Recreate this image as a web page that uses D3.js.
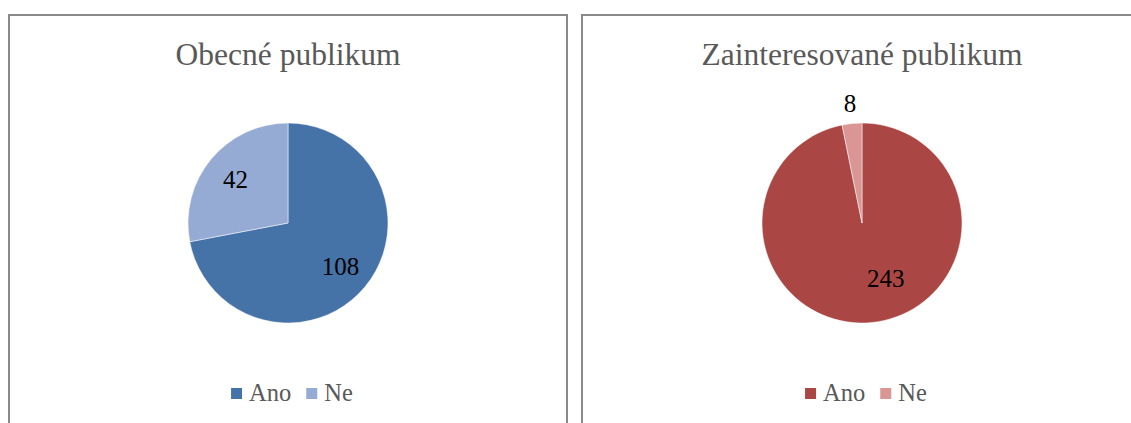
<!DOCTYPE html>
<html><head><meta charset="utf-8">
<script src="https://cdn.jsdelivr.net/npm/d3@7"></script>
<style>html,body{margin:0;padding:0;background:#fff;}svg{display:block;}text{font-family:"Liberation Serif","Times New Roman",serif;}</style>
</head><body>
<svg id="c" width="1131" height="423"></svg>
<script>
const categories = ["Ano", "Ne"];
const titles = ["Obecné publikum", "Zainteresované publikum"];
const valuesGeneral = [108, 42];
const valuesInterested = [243, 8];
const colorsGeneral = ["#4572A7", "#95ABD3"];
const colorsInterested = ["#AA4643", "#D99694"];

const svg = d3.select("#c");
const panels = [
  {x: 9, w: 558, cx: 288, title: titles[0], values: valuesGeneral, colors: colorsGeneral,
   outside: [false, false], shift: [[0, 0], [0, 0]]},
  {x: 582, w: 600, cx: 862, title: titles[1], values: valuesInterested, colors: colorsInterested,
   outside: [false, true], shift: [[17, -12], [0, 0]]}
];
const R = 100;
panels.forEach((p, i) => {
  const g = svg.append("g");
  g.append("rect").attr("x", p.x).attr("y", 15).attr("width", p.w).attr("height", 460)
    .attr("fill", "#fff").attr("stroke", "#8a8a8a").attr("stroke-width", 2);
  const cx = p.cx, cy = 223;
  g.append("text").attr("x", cx).attr("y", 65).attr("text-anchor", "middle")
    .attr("font-size", 31.5).attr("fill", "#595959").text(p.title);
  const pie = d3.pie().sort(null).value(d => d)(p.values);
  const arc = d3.arc().innerRadius(0).outerRadius(R);
  const pg = g.append("g").attr("transform", `translate(${cx},${cy})`);
  pg.selectAll("path").data(pie).join("path").attr("d", arc)
    .attr("fill", (d, j) => p.colors[j]).attr("stroke", "#fff").attr("stroke-width", 0.5);
  pg.selectAll("text").data(pie).join("text")
    .attr("transform", (d, j) => {
      const r = p.outside[j] ? R * 1.2 : R * 0.68;
      const c = d3.arc().innerRadius(r).outerRadius(r).centroid(d);
      return `translate(${c[0] + p.shift[j][0]},${c[1] + p.shift[j][1]})`;
    })
    .attr("dy", "0.35em").attr("text-anchor", "middle")
    .attr("font-size", 25).attr("fill", "#000").text(d => d.value);
  // legend
  const lg = g.append("g");
  let off = 0;
  categories.forEach((c, j) => {
    lg.append("rect").attr("x", off).attr("y", -6).attr("width", 11).attr("height", 11).attr("fill", p.colors[j]);
    const t = lg.append("text").attr("x", off + 18).attr("y", 7)
      .attr("font-size", 24.5).attr("fill", "#595959").text(c);
    off += 18 + t.node().getComputedTextLength() + 15;
  });
  const bb = lg.node().getBBox();
  lg.attr("transform", `translate(${cx - bb.width / 2 + 4},394)`);
});
</script>
</body></html>
